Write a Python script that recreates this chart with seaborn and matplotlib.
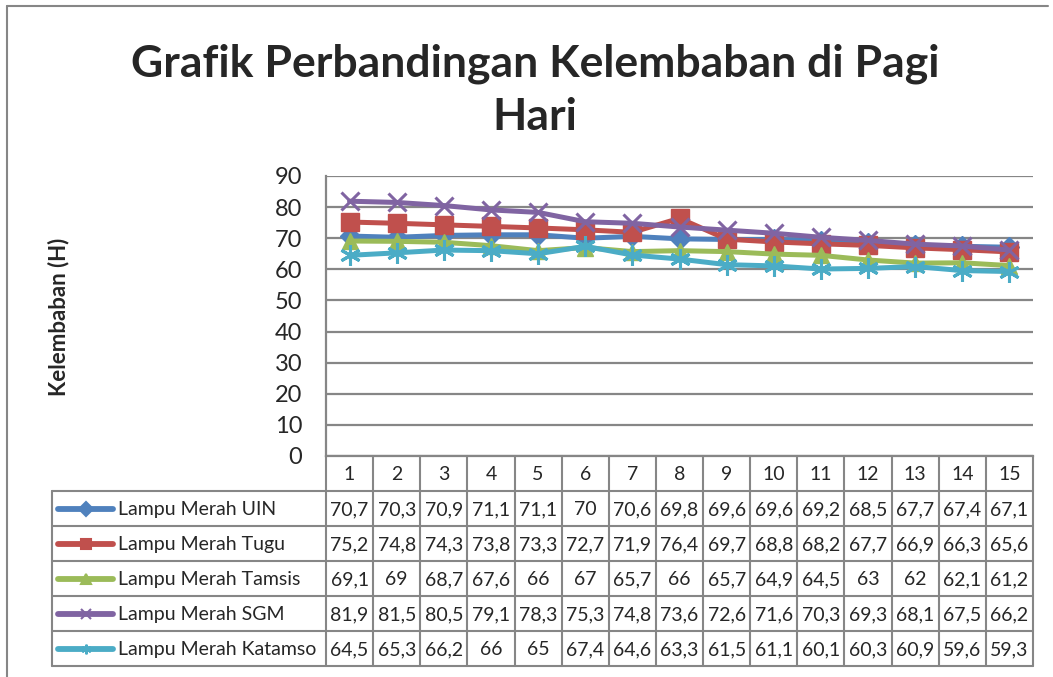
import matplotlib
matplotlib.use('Agg')

import pandas as pd
import matplotlib.pyplot as plt
import seaborn as sns

import numpy as np


days = list(range(1, 16))
uin = [70.7, 70.3, 70.9, 71.1, 71.1, 70, 70.6, 69.8, 69.6, 69.6, 69.2, 68.5, 67.7, 67.4, 67.1]
tugu = [75.2, 74.8, 74.3, 73.8, 73.3, 72.7, 71.9, 76.4, 69.7, 68.8, 68.2, 67.7, 66.9, 66.3, 65.6]
tamsis = [69.1, 69, 68.7, 67.6, 66, 67, 65.7, 66, 65.7, 64.9, 64.5, 63, 62, 62.1, 61.2]
sgm = [81.9, 81.5, 80.5, 79.1, 78.3, 75.3, 74.8, 73.6, 72.6, 71.6, 70.3, 69.3, 68.1, 67.5, 66.2]
katamso = [64.5, 65.3, 66.2, 66, 65, 67.4, 64.6, 63.3, 61.5, 61.1, 60.1, 60.3, 60.9, 59.6, 59.3]

names = ["Lampu Merah UIN", "Lampu Merah Tugu", "Lampu Merah Tamsis",
         "Lampu Merah SGM", "Lampu Merah Katamso"]
series = [uin, tugu, tamsis, sgm, katamso]
colors = ["#4F81BD", "#C0504D", "#9BBB59", "#8064A2", "#4BACC6"]
markers = ["D", "s", "^", "x", (6, 2, 0)]
msizes = [10, 13, 11, 13, 15]

title = "Grafik Perbandingan Kelembaban di Pagi\nHari"
ylabel = "Kelembaban (H)"


def fmt(v):
    s = ("%.1f" % v).rstrip("0").rstrip(".")
    return s.replace(".", ",")


if __name__ == "__main__":
    sns.set_style("white")
    plt.rcParams['font.family'] = ['Lato', 'DejaVu Sans']

    W, H = 1053, 677
    fig = plt.figure(figsize=(W / 100, H / 100), dpi=100)

    # plot area in pixels
    L, R, T, B = 326, 1033, 176, 456
    ax = fig.add_axes([L / W, 1 - B / H, (R - L) / W, (B - T) / H])

    rows = []
    for n, s in zip(names, series):
        for d, v in zip(days, s):
            rows.append([d, v, n])
    df = pd.DataFrame(rows, columns=["Hari", "Kelembaban", "Lokasi"])

    for n, c, m, ms in zip(names, colors, markers, msizes):
        sub = df[df["Lokasi"] == n]
        thin = m == "x" or isinstance(m, tuple)
        sns.lineplot(data=sub, x="Hari", y="Kelembaban", ax=ax, color=c,
                     marker=m, markersize=ms, linewidth=3.6,
                     markeredgecolor=c, markeredgewidth=2.2 if thin else 1,
                     legend=False)

    ax.set_xlim(0.5, 15.5)
    ax.set_ylim(0, 90)
    ax.set_yticks(range(0, 100, 10))
    ax.set_xticks([])
    ax.set_xlabel("")
    ax.set_ylabel("")
    ax.grid(axis="y", color="#868686", linewidth=1.6)
    for sp in ["top", "right"]:
        ax.spines[sp].set_visible(False)
    for sp in ["left", "bottom"]:
        ax.spines[sp].set_color("#868686")
        ax.spines[sp].set_linewidth(1.6)
    ax.tick_params(axis="y", length=0, pad=17, labelsize=17)

    # overlay axes in pixel coords for the data table and frame
    ov = fig.add_axes([0, 0, 1, 1])
    ov.set_xlim(0, W)
    ov.set_ylim(H, 0)
    ov.axis("off")
    ov.patch.set_alpha(0)

    gc = "#868686"
    # chart border (top and left)
    ov.plot([7, 1048], [6, 6], color=gc, lw=1.5)
    ov.plot([7, 7], [6, H], color=gc, lw=1.5)

    cw = (R - L) / 15
    hdr_b = 491
    row_h = 35
    n_rows = len(names)
    tab_b = hdr_b + row_h * n_rows
    legL = 52
    fs = 14

    # header row with day numbers
    for i, d in enumerate(days):
        x0 = L + i * cw
        ov.plot([x0 + cw, x0 + cw], [B, tab_b], color=gc, lw=1.5)
        ov.text(x0 + cw / 2, (B + hdr_b) / 2 + 1, str(d), ha="center", va="center", fontsize=fs)
    ov.plot([L, L], [B, tab_b], color=gc, lw=1.5)

    # horizontal lines of the table
    for k in range(n_rows + 1):
        y = hdr_b + k * row_h
        ov.plot([legL, R], [y, y], color=gc, lw=1.5)
    ov.plot([legL, legL], [hdr_b, tab_b], color=gc, lw=1.5)

    for k, (n, s, c, m) in enumerate(zip(names, series, colors, markers)):
        yc = hdr_b + k * row_h + row_h / 2
        ov.plot([58, 113], [yc, yc], color=c, lw=4.2, solid_capstyle="round")
        ov.plot([85.5], [yc], marker=m, color=c, markersize=7,
                markeredgewidth=1.5, markeredgecolor=c)
        ov.text(118, yc + 1, n, ha="left", va="center", fontsize=fs)
        for i, v in enumerate(s):
            ov.text(L + i * cw + cw / 2, yc + 1, fmt(v), ha="center", va="center", fontsize=fs)

    fig.text(535 / W, 1 - 90 / H, title, ha="center", va="center",
             fontsize=32, fontweight="bold", linespacing=1.4)
    fig.text(59 / W, 1 - 317 / H, ylabel, ha="center", va="center",
             rotation=90, fontsize=16, fontweight="bold")

    fig.savefig("out.png", dpi=100)
